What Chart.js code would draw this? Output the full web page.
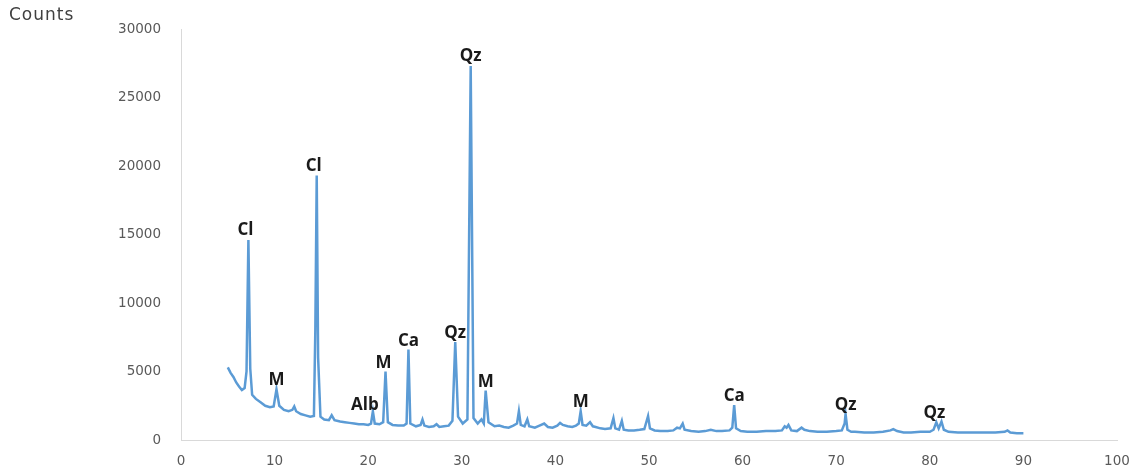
<!DOCTYPE html>
<html>
<head>
<meta charset="utf-8">
<script src="https://cdn.jsdelivr.net/npm/chart.js@4/dist/chart.umd.min.js"></script>
<style>
  html, body { margin: 0; padding: 0; background: #fff; }
  #wrap { width: 1137px; height: 473px; position: relative; }
</style>
</head>
<body>
<div id="wrap"><canvas id="xrd"></canvas></div>
<script>
// diffraction scan: 2-theta (deg) and counts
const twoTheta = [
  5.0, 5.3, 5.6, 5.9, 6.2, 6.5, 6.8, 7.0, 7.2, 7.4, 7.6, 8.0, 8.5, 9.0, 9.5, 9.9,
  10.2, 10.5, 11.0, 11.5, 11.9, 12.1, 12.3, 12.8, 13.3, 13.8, 14.2, 14.35, 14.5, 14.65, 14.9,
  15.3, 15.8, 16.1, 16.4, 17.0, 17.5, 18.0, 18.5, 19.0, 19.5, 20.0, 20.3, 20.5, 20.7,
  21.2, 21.6, 21.85, 22.1, 22.6, 23.2, 23.8, 24.1, 24.3, 24.5, 25.1, 25.6, 25.8, 26.0,
  26.5, 27.0, 27.3, 27.6, 28.1, 28.6, 29.0, 29.3, 29.6, 30.1, 30.6, 30.95, 31.25, 31.7,
  32.1, 32.35, 32.55, 32.85, 33.5, 34.0, 34.5, 35.0, 35.5, 35.9, 36.1, 36.3, 36.7, 37.0,
  37.2, 37.8, 38.3, 38.8, 39.2, 39.7, 40.2, 40.5, 40.8, 41.3, 41.8, 42.2, 42.5, 42.7,
  42.9, 43.3, 43.7, 44.0, 44.3, 44.8, 45.3, 45.9, 46.2, 46.4, 46.8, 47.1, 47.3, 47.8,
  48.4, 49.0, 49.5, 49.9, 50.1, 50.6, 51.2, 52.0, 52.6, 53.0, 53.3, 53.6, 53.8, 54.5,
  55.3, 56.0, 56.6, 57.2, 57.8, 58.6, 58.9, 59.1, 59.3, 59.8, 60.5, 61.5, 62.5, 63.5,
  64.2, 64.5, 64.7, 64.9, 65.2, 65.8, 66.3, 66.6, 67.2, 68.0, 69.0, 70.0, 70.6, 70.9,
  71.0, 71.2, 71.6, 72.0, 73.0, 74.0, 75.0, 75.8, 76.1, 76.5, 77.2, 78.0, 79.0, 80.0,
  80.4, 80.7, 80.95, 81.25, 81.5, 82.0, 83.0, 84.0, 85.0, 86.0, 87.0, 88.0, 88.3, 88.6,
  89.3, 90.0
];
const counts = [
  5300, 4900, 4600, 4200, 3900, 3650, 3800, 5000, 14600, 5200, 3300, 3000, 2750, 2500, 2400, 2450,
  3700, 2500, 2200, 2100, 2200, 2450, 2100, 1900, 1800, 1700, 1750, 8000, 19300, 6000, 1700,
  1500, 1450, 1800, 1450, 1350, 1300, 1250, 1200, 1150, 1150, 1100, 1200, 2100, 1200,
  1150, 1300, 5000, 1300, 1100, 1050, 1050, 1200, 6600, 1200, 1000, 1100, 1500, 1050,
  950, 1000, 1150, 950, 1000, 1050, 1400, 7150, 1700, 1200, 1500, 27300, 1600, 1200,
  1500, 1200, 3600, 1300, 1000, 1050, 950, 900, 1050, 1200, 2100, 1100, 1000, 1500,
  1000, 900, 1050, 1200, 950, 900, 1050, 1250, 1100, 1000, 950, 1050, 1200, 2100,
  1100, 1050, 1300, 1000, 950, 850, 800, 850, 1600, 850, 750, 1400, 750, 700,
  700, 750, 800, 1750, 850, 700, 650, 650, 700, 900, 850, 1200, 750, 650,
  600, 650, 750, 650, 650, 700, 900, 2550, 850, 650, 600, 600, 650, 650,
  700, 1000, 900, 1100, 700, 650, 900, 750, 650, 600, 600, 650, 700, 1200,
  1900, 750, 600, 600, 550, 550, 600, 700, 800, 650, 550, 550, 600, 600,
  750, 1300, 850, 1350, 750, 600, 550, 550, 550, 550, 550, 600, 700, 550,
  500, 500
];

// phase labels and the 2-theta of the reflection each one marks
const peakNames = ["Cl", "M", "Cl", "Alb", "M", "Ca", "Qz", "Qz", "M", "M", "Ca", "Qz", "Qz"];
const peakAt = [7.2, 10.2, 14.5, 20.5, 21.85, 24.3, 29.3, 30.95, 32.55, 42.7, 59.1, 71.0, 80.7];

const xTickValues = [0, 10, 20, 30, 40, 50, 60, 70, 80, 90, 100];
const yTickValues = [0, 5000, 10000, 15000, 20000, 25000, 30000];

const axisTitle = "Counts";

const tickFont = { family: "'DejaVu Sans', sans-serif", size: 13.5 };

// little pixel nudges so the labels sit like the hand-placed ones
const labelNudge = { 0: [-3, -1], 2: [-3, -1], 3: [-8, 3], 4: [-2, 0], 7: [0, -1], 12: [-2, 0] };

const peakLabels = {
  id: "peakLabels",
  afterDatasetsDraw(chart) {
    const { ctx, scales: { x, y } } = chart;
    ctx.save();
    ctx.font = "bold 17px 'Open Sans', sans-serif";
    ctx.fillStyle = "#1a1a1a";
    ctx.textAlign = "center";
    ctx.textBaseline = "alphabetic";
    peakNames.forEach((name, i) => {
      const j = twoTheta.indexOf(peakAt[i]);
      const [dx, dy] = labelNudge[i] || [0, 0];
      const px = x.getPixelForValue(peakAt[i]) + dx;
      const py = y.getPixelForValue(counts[j]) - 4 + dy;
      ctx.fillText(name, px, py);
    });
    ctx.restore();
  }
};

const countsTitle = {
  id: "countsTitle",
  afterDraw(chart) {
    const ctx = chart.ctx;
    ctx.save();
    ctx.font = "17px 'DejaVu Sans', sans-serif";
    ctx.letterSpacing = "1px";
    ctx.fillStyle = "#404040";
    ctx.textAlign = "left";
    ctx.textBaseline = "middle";
    ctx.fillText(axisTitle, 9, 16);
    ctx.restore();
  }
};

new Chart(document.getElementById("xrd"), {
  type: "line",
  data: {
    datasets: [{
      data: twoTheta.map((t, i) => ({ x: t, y: counts[i] })),
      borderColor: "#5b9bd5",
      borderWidth: 2.5,
      pointRadius: 0,
      tension: 0,
      fill: false
    }]
  },
  options: {
    responsive: true,
    maintainAspectRatio: false,
    animation: false,
    layout: { padding: { left: 0, right: 20, top: 29, bottom: 0 } },
    plugins: { legend: { display: false }, tooltip: { enabled: false } },
    scales: {
      x: {
        type: "linear",
        min: 0,
        max: 100,
        afterBuildTicks: s => { s.ticks = xTickValues.map(v => ({ value: v })); },
        afterFit: s => { s.height = 33; s.paddingLeft = 0; s.paddingRight = 0; },
        grid: { display: false, drawTicks: false },
        border: { display: true, color: "#d9d9d9", width: 1 },
        ticks: { color: "#595959", font: tickFont, padding: 13, maxRotation: 0 }
      },
      y: {
        min: 0,
        max: 30000,
        afterBuildTicks: s => { s.ticks = yTickValues.map(v => ({ value: v })); },
        afterFit: s => { s.width = 181; },
        grid: { display: false, drawTicks: false },
        border: { display: true, color: "#d9d9d9", width: 1 },
        ticks: { color: "#595959", font: tickFont, padding: 20, callback: v => String(v) }
      }
    }
  },
  plugins: [peakLabels, countsTitle]
});
</script>
</body>
</html>
